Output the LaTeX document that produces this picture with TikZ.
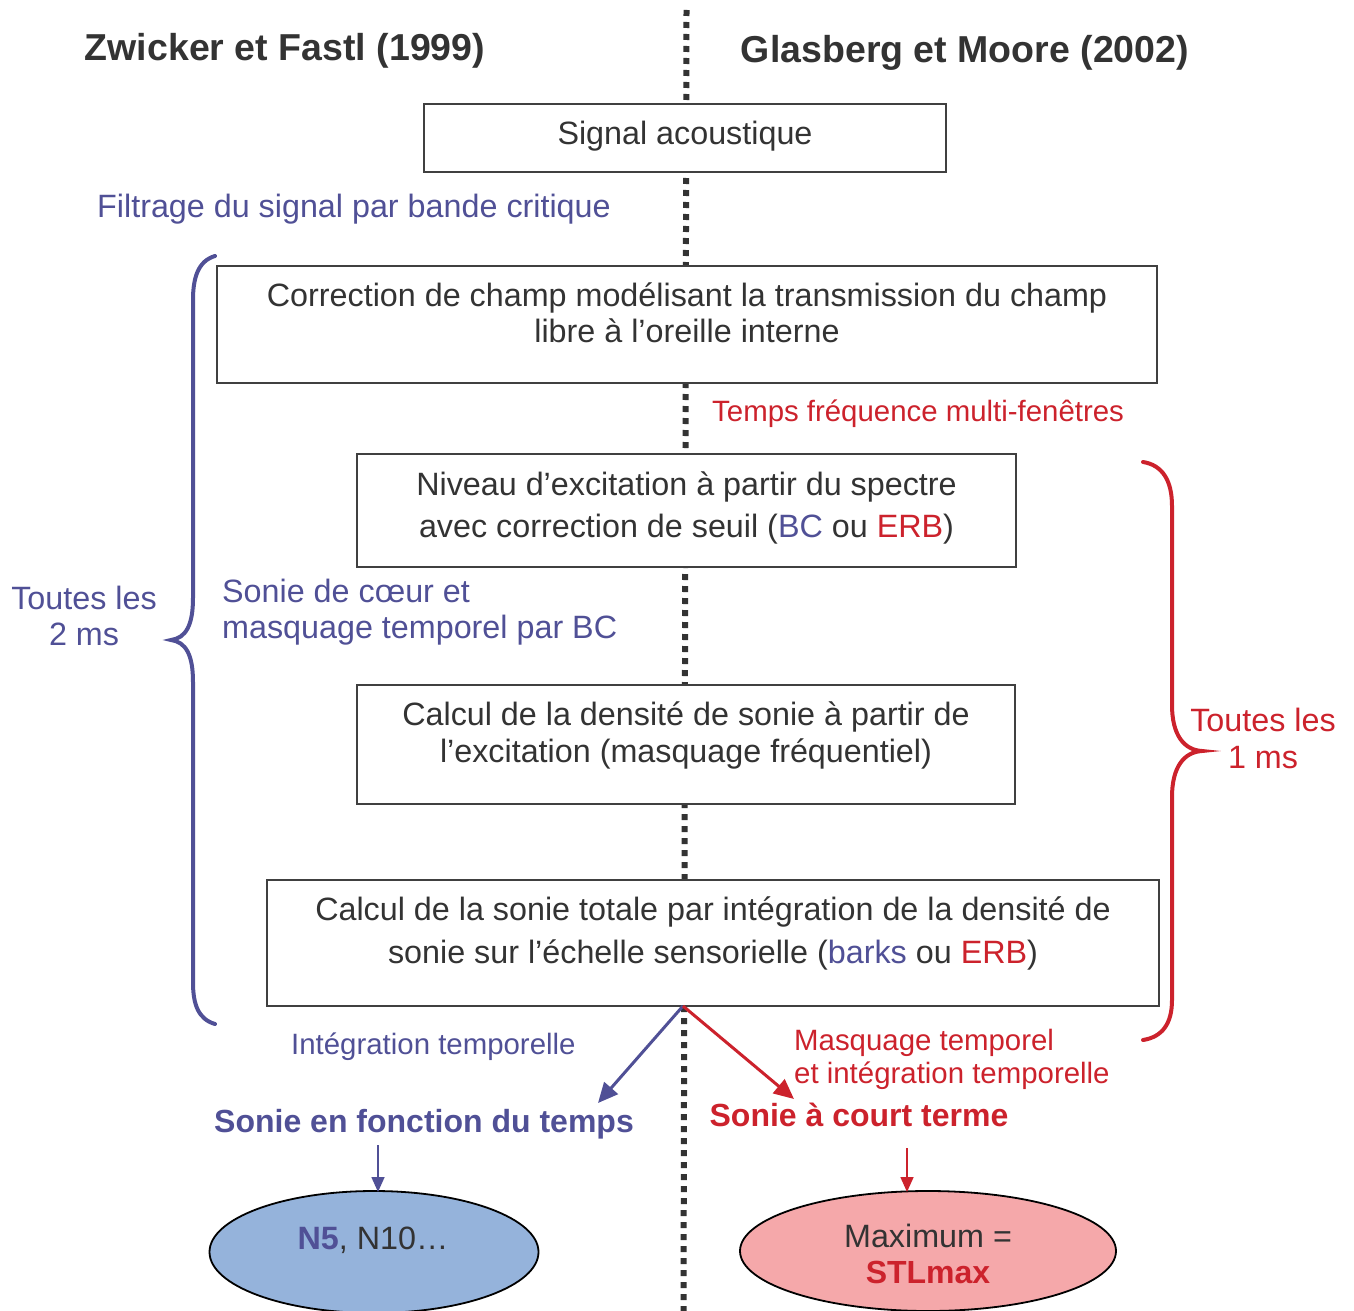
\documentclass[tikz,border=0pt]{standalone}
\usepackage{fontspec}
\setmainfont{Liberation Sans}
\usetikzlibrary{arrows.meta,shapes.geometric}
\definecolor{txt}{RGB}{51,51,51}
\definecolor{bl}{RGB}{80,80,150}
\definecolor{rd}{RGB}{204,34,44}
\definecolor{bfill}{RGB}{149,179,219}
\definecolor{rfill}{RGB}{245,168,170}
\definecolor{boxline}{RGB}{64,64,64}
\tikzset{
  box/.style={draw=boxline,line width=1.8pt,fill=white,inner sep=0pt},
  t/.style={inner sep=0pt,anchor=base,text=txt,font=\fontsize{32.3}{36}\selectfont},
  tl/.style={t,anchor=base west},
  bigb/.style={inner sep=0pt,anchor=base,font=\fontsize{37.5}{42}\selectfont\bfseries,text=txt},
  sm/.style={inner sep=0pt,anchor=base west,font=\fontsize{29.4}{33}\selectfont},
  dotline/.style={line width=6pt,color=txt,dash pattern=on 6pt off 6pt},
  brace/.style={line width=4pt,line cap=round},
  bigarrow/.style={line width=3pt,-{Triangle[length=20pt,width=18pt]}},
  smallarrow/.style={line width=1.6pt,-{Triangle[length=15pt,width=13pt]}},
  ell/.style={ellipse,draw=black,line width=1.8pt,inner sep=0pt}
}
\begin{document}
\begin{tikzpicture}[x=1pt,y=-1pt]
\useasboundingbox (0,0) rectangle (1354,1311);
% dotted separator
\coordinate (dtop) at (686.5,10);
\coordinate (dbot) at (683.5,1311);
\draw[dotline] (dtop) -- (dbot);

% headings
\node[bigb] (h1) at (285,61) {Zwicker et Fastl (1999)};
\node[bigb] (h2) at (965,63) {Glasberg et Moore (2002)};

% boxes
\node[box,minimum width=522pt,minimum height=68pt] (b1) at (685,138) {};
\node[t] (b1t) at (685,145) {Signal acoustique};

\node[box,minimum width=940pt,minimum height=117pt] (b2) at (687,324.5) {};
\node[t] (b2t1) at (687,306) {Correction de champ modélisant la transmission du champ};
\node[t] (b2t2) at (687,342) {libre à l’oreille interne};

\node[box,minimum width=659pt,minimum height=113pt] (b3) at (686.5,510.5) {};
\node[t] (b3t1) at (686.5,495) {Niveau d’excitation à partir du spectre};
\node[t] (b3t2) at (686.5,537) {avec correction de seuil (\textcolor{bl}{BC} ou \textcolor{rd}{ERB})};

\node[box,minimum width=658pt,minimum height=119pt] (b4) at (686,744.5) {};
\node[t] (b4t1) at (686,725) {Calcul de la densité de sonie à partir de};
\node[t] (b4t2) at (686,762) {l’excitation (masquage fréquentiel)};

\node[box,minimum width=892pt,minimum height=126pt] (b5) at (713,943) {};
\node[t] (b5t1) at (713,920) {Calcul de la sonie totale par intégration de la densité de};
\node[t] (b5t2) at (713,963) {sonie sur l’échelle sensorielle (\textcolor{bl}{barks} ou \textcolor{rd}{ERB})};

% side labels
\node[tl,text=bl] (filt) at (97,217) {Filtrage du signal par bande critique};
\node[sm,text=rd] (tfm) at (712,421) {Temps fréquence multi-fenêtres};
\node[tl,text=bl] (sc1) at (222,602) {Sonie de cœur et};
\node[tl,text=bl] (sc2) at (222,638) {masquage temporel par BC};

% left brace
\draw[brace,bl] (215,256) .. controls (198,261) and (193,278) .. (193,300) -- (193,598)
  .. controls (193,625) and (186,638) .. (171,640)
  .. controls (186,642) and (193,655) .. (193,682) -- (193,982)
  .. controls (193,1004) and (198,1019) .. (215,1024);
\node[t,text=bl] (tl1) at (84,609) {Toutes les};
\node[t,text=bl] (tl2) at (84,645) {2 ms};

% right brace
\draw[brace,rd] (1143,462) .. controls (1162,465) and (1172,480) .. (1172,506) -- (1172,705)
  .. controls (1172,735) and (1184,750) .. (1202,751)
  .. controls (1184,752) and (1172,767) .. (1172,797) -- (1172,1000)
  .. controls (1172,1024) and (1162,1037) .. (1143,1040);
\node[t,text=rd] (tr1) at (1263,731) {Toutes les};
\node[t,text=rd] (tr2) at (1263,768) {1 ms};

% outputs
\coordinate (split) at (683,1006);
\coordinate (ablue) at (598,1103);
\coordinate (ared) at (794,1099);
\draw[bigarrow,bl] (split) -- (ablue);
\draw[bigarrow,rd] (split) -- (ared);

\node[sm,text=bl] (itg) at (291,1054) {Intégration temporelle};
\node[sm,text=rd] (msk1) at (794,1050) {Masquage temporel};
\node[sm,text=rd] (msk2) at (794,1083) {et intégration temporelle};

\node[inner sep=0pt,anchor=base,font=\fontsize{32}{36}\selectfont\bfseries,text=bl] (sft) at (424,1132) {Sonie en fonction du temps};
\node[inner sep=0pt,anchor=base,font=\fontsize{32}{36}\selectfont\bfseries,text=rd] (sct) at (859,1126) {Sonie à court terme};

% ellipses
\node[ell,fill=bfill,minimum width=329pt,minimum height=122pt] (e1) at (374,1252) {};
\node[t] (e1t) at (373,1249) {\textcolor{bl}{\bfseries N5}, N10…};
\node[ell,fill=rfill,minimum width=376pt,minimum height=120pt] (e2) at (928,1251) {};
\node[t] (e2t1) at (928,1247) {Maximum =};
\node[t,text=rd,font=\fontsize{32}{36}\selectfont\bfseries] (e2t2) at (928,1283) {STLmax};

\coordinate (s1) at (378,1145);
\coordinate (s1e) at (378,1192);
\coordinate (s2) at (907,1148);
\coordinate (s2e) at (907,1192);
\draw[smallarrow,bl] (s1) -- (s1e);
\draw[smallarrow,rd] (s2) -- (s2e);
\end{tikzpicture}
\end{document}
